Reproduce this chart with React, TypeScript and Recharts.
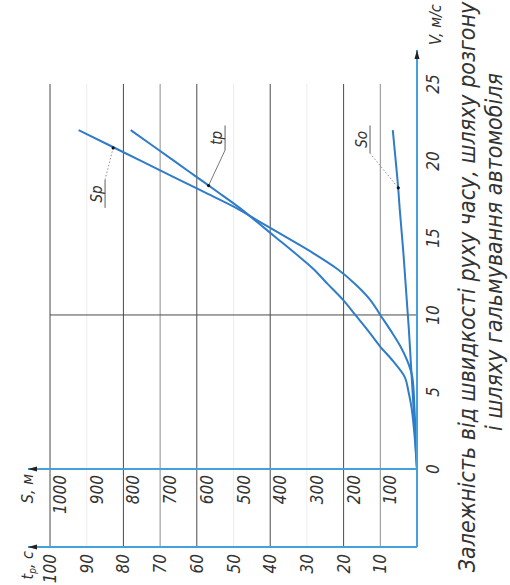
import { LineChart, Line, XAxis, YAxis, ReferenceLine, ReferenceDot } from "recharts";

// швидкість, м/с
const speeds = [0, 1, 2, 3, 4, 5, 6, 7, 8, 9, 10, 11, 12, 13, 14, 15, 16, 17, 18, 19, 20, 21, 22];
// шлях розгону Sp, м
const accelPath = [0, 1.5, 3, 5, 7, 9, 13, 26, 46, 72, 100, 128, 168, 218, 282, 353, 425, 497, 582, 667, 752, 837, 922];
// час розгону tp, с
const accelTime = [0, 0.3, 0.6, 1, 1.5, 2.3, 3.4, 6.5, 10.2, 13.4, 16.8, 20.2, 24.3, 28.3, 33.2, 38.3, 43.4, 48.6, 54.4, 60.3, 66.2, 72.1, 78];
// шлях гальмування So, м
const brakePath = [0, 2.3, 4.6, 7, 9.5, 12, 14.5, 17, 19.5, 22, 25, 28, 31, 34, 37, 40.5, 44, 47.5, 50.5, 54, 58, 62, 66];

const speedTicks = [0, 5, 10, 15, 20, 25];
const timeTicks = [10, 20, 30, 40, 50, 60, 70, 80, 90, 100];
const pathTicks = [100, 200, 300, 400, 500, 600, 700, 800, 900, 1000];

const data = speeds.map((v, i) => ({
  v,
  sp: accelPath[i],
  tp: accelTime[i],
  so: brakePath[i],
}));

const FONT = "'Liberation Sans Narrow', 'DejaVu Sans Condensed', 'Liberation Sans', sans-serif";
const AXIS = "#45a0de";
const CURVE = "#2f7cc8";
const T_AXIS_X = -5.065; // where the time axis sits, in V units
const V_MAX = 27.2;

const gridColor = (t: number) =>
  [100, 80, 60, 40, 20].includes(t) ? "#4a4a4a" : [70, 10].includes(t) ? "#8c8c8c" : "#ececec";

const tickStyle = { fontSize: 17, fontStyle: "italic", fill: "#333", fontFamily: FONT };

const arrowUp = (p: any) => (
  <polygon points={`${p.cx},${p.cy} ${p.cx - 2.5},${p.cy + 9} ${p.cx + 2.5},${p.cy + 9}`} fill="#222" />
);
const arrowRight = (p: any) => (
  <polygon points={`${p.cx},${p.cy} ${p.cx - 9},${p.cy - 2.5} ${p.cx - 9},${p.cy + 2.5}`} fill="#222" />
);

const noteLabel = (value: string) => ({
  value,
  position: "top" as const,
  offset: 3,
  fontSize: 15,
  fontStyle: "italic",
  fill: "#333",
  fontFamily: FONT,
});

export default function App() {
  return (
    <div style={{ position: "fixed", top: 0, left: 0, width: 510, height: 585, overflow: "hidden", background: "#fff" }}>
      <div
        style={{
          position: "absolute",
          top: 0,
          left: 0,
          width: 585,
          height: 510,
          transformOrigin: "0 0",
          transform: "translateY(585px) rotate(-90deg)",
        }}
      >
        <LineChart width={585} height={510} data={data} margin={{ top: 28, right: 50, bottom: 63, left: 0 }}>
          <XAxis
            dataKey="v"
            type="number"
            domain={[0, V_MAX]}
            ticks={speedTicks}
            height={30}
            axisLine={{ stroke: AXIS, strokeWidth: 2 }}
            tickLine={false}
            tickSize={0}
            tickMargin={10}
            tick={tickStyle}
          />
          <YAxis
            yAxisId="s"
            type="number"
            domain={[0, 1060]}
            ticks={pathTicks}
            width={78}
            axisLine={{ stroke: AXIS, strokeWidth: 2 }}
            tickLine={false}
            tickSize={0}
            tickMargin={6}
            tick={{ ...tickStyle, dy: 10 }}
          />
          <YAxis
            yAxisId="t"
            type="number"
            domain={[0, 106]}
            ticks={timeTicks}
            width={38}
            axisLine={{ stroke: AXIS, strokeWidth: 2 }}
            tickLine={false}
            tickSize={0}
            tickMargin={7}
            tick={tickStyle}
          />

          {timeTicks.map((t) => (
            <ReferenceLine
              key={t}
              yAxisId="t"
              segment={[{ x: T_AXIS_X, y: t }, { x: 25, y: t }]}
              stroke={gridColor(t)}
              strokeWidth={1}
              ifOverflow="visible"
            />
          ))}
          <ReferenceLine yAxisId="t" segment={[{ x: 10, y: 0 }, { x: 10, y: 100 }]} stroke="#4a4a4a" strokeWidth={1} />
          <ReferenceLine
            yAxisId="t"
            segment={[{ x: T_AXIS_X, y: 0 }, { x: 0, y: 0 }]}
            stroke={AXIS}
            strokeWidth={2}
            ifOverflow="visible"
          />

          <Line yAxisId="s" dataKey="sp" type="monotone" stroke={CURVE} strokeWidth={2} dot={false} isAnimationActive={false} />
          <Line yAxisId="t" dataKey="tp" type="monotone" stroke={CURVE} strokeWidth={2} dot={false} isAnimationActive={false} />
          <Line yAxisId="s" dataKey="so" type="monotone" stroke={CURVE} strokeWidth={2} dot={false} isAnimationActive={false} />

          {/* позначення кривих */}
          <ReferenceLine yAxisId="t" segment={[{ x: 16.95, y: 85 }, { x: 18.77, y: 85 }]} stroke="#333" strokeWidth={0.8} label={noteLabel("Sp")} />
          <ReferenceLine yAxisId="t" segment={[{ x: 18.77, y: 85 }, { x: 20.84, y: 82.8 }]} stroke="#777" strokeWidth={0.8} strokeDasharray="1.5 2" />
          <ReferenceDot yAxisId="t" x={20.84} y={82.8} r={1.6} fill="#111" stroke="none" />

          <ReferenceLine yAxisId="t" segment={[{ x: 20.7, y: 52.3 }, { x: 22.3, y: 52.3 }]} stroke="#333" strokeWidth={0.8} label={noteLabel("tp")} />
          <ReferenceLine yAxisId="t" segment={[{ x: 20.7, y: 52.3 }, { x: 18.4, y: 56.8 }]} stroke="#555" strokeWidth={0.8} />
          <ReferenceDot yAxisId="t" x={18.4} y={56.8} r={1.6} fill="#111" stroke="none" />

          <ReferenceLine yAxisId="t" segment={[{ x: 20.5, y: 12.8 }, { x: 22.3, y: 12.8 }]} stroke="#333" strokeWidth={0.8} label={noteLabel("So")} />
          <ReferenceLine yAxisId="t" segment={[{ x: 20.5, y: 12.8 }, { x: 18.25, y: 5.1 }]} stroke="#777" strokeWidth={0.8} strokeDasharray="1.5 2" />
          <ReferenceDot yAxisId="t" x={18.25} y={5.1} r={1.6} fill="#111" stroke="none" />

          {/* стрілки осей */}
          <ReferenceDot yAxisId="t" x={V_MAX} y={0} r={3} shape={arrowRight} ifOverflow="visible" />
          <ReferenceDot yAxisId="t" x={0} y={106} r={3} shape={arrowUp} ifOverflow="visible" />
          <ReferenceDot yAxisId="t" x={T_AXIS_X} y={106} r={3} shape={arrowUp} ifOverflow="visible" />
        </LineChart>

        <svg
          width={585}
          height={510}
          style={{ position: "absolute", top: 0, left: 0, pointerEvents: "none" }}
          fontFamily={FONT}
          fontStyle="italic"
          fill="#333"
        >
          <text x={540} y={441} fontSize={16}>V, м/с</text>
          <text x={111} y={33} fontSize={16} textAnchor="end">S, м</text>
          <text x={34} y={33} fontSize={16} textAnchor="end">
            t<tspan fontSize={10} dy={3}>р</tspan>
            <tspan dy={-3}>, с</tspan>
          </text>
          <text x={298} y={475} fontSize={23} textAnchor="middle">
            Залежність від швидкості руху часу, шляху розгону
          </text>
          <text x={333} y={502} fontSize={23} textAnchor="middle">
            і шляху гальмування автомобіля
          </text>
        </svg>
      </div>
    </div>
  );
}
